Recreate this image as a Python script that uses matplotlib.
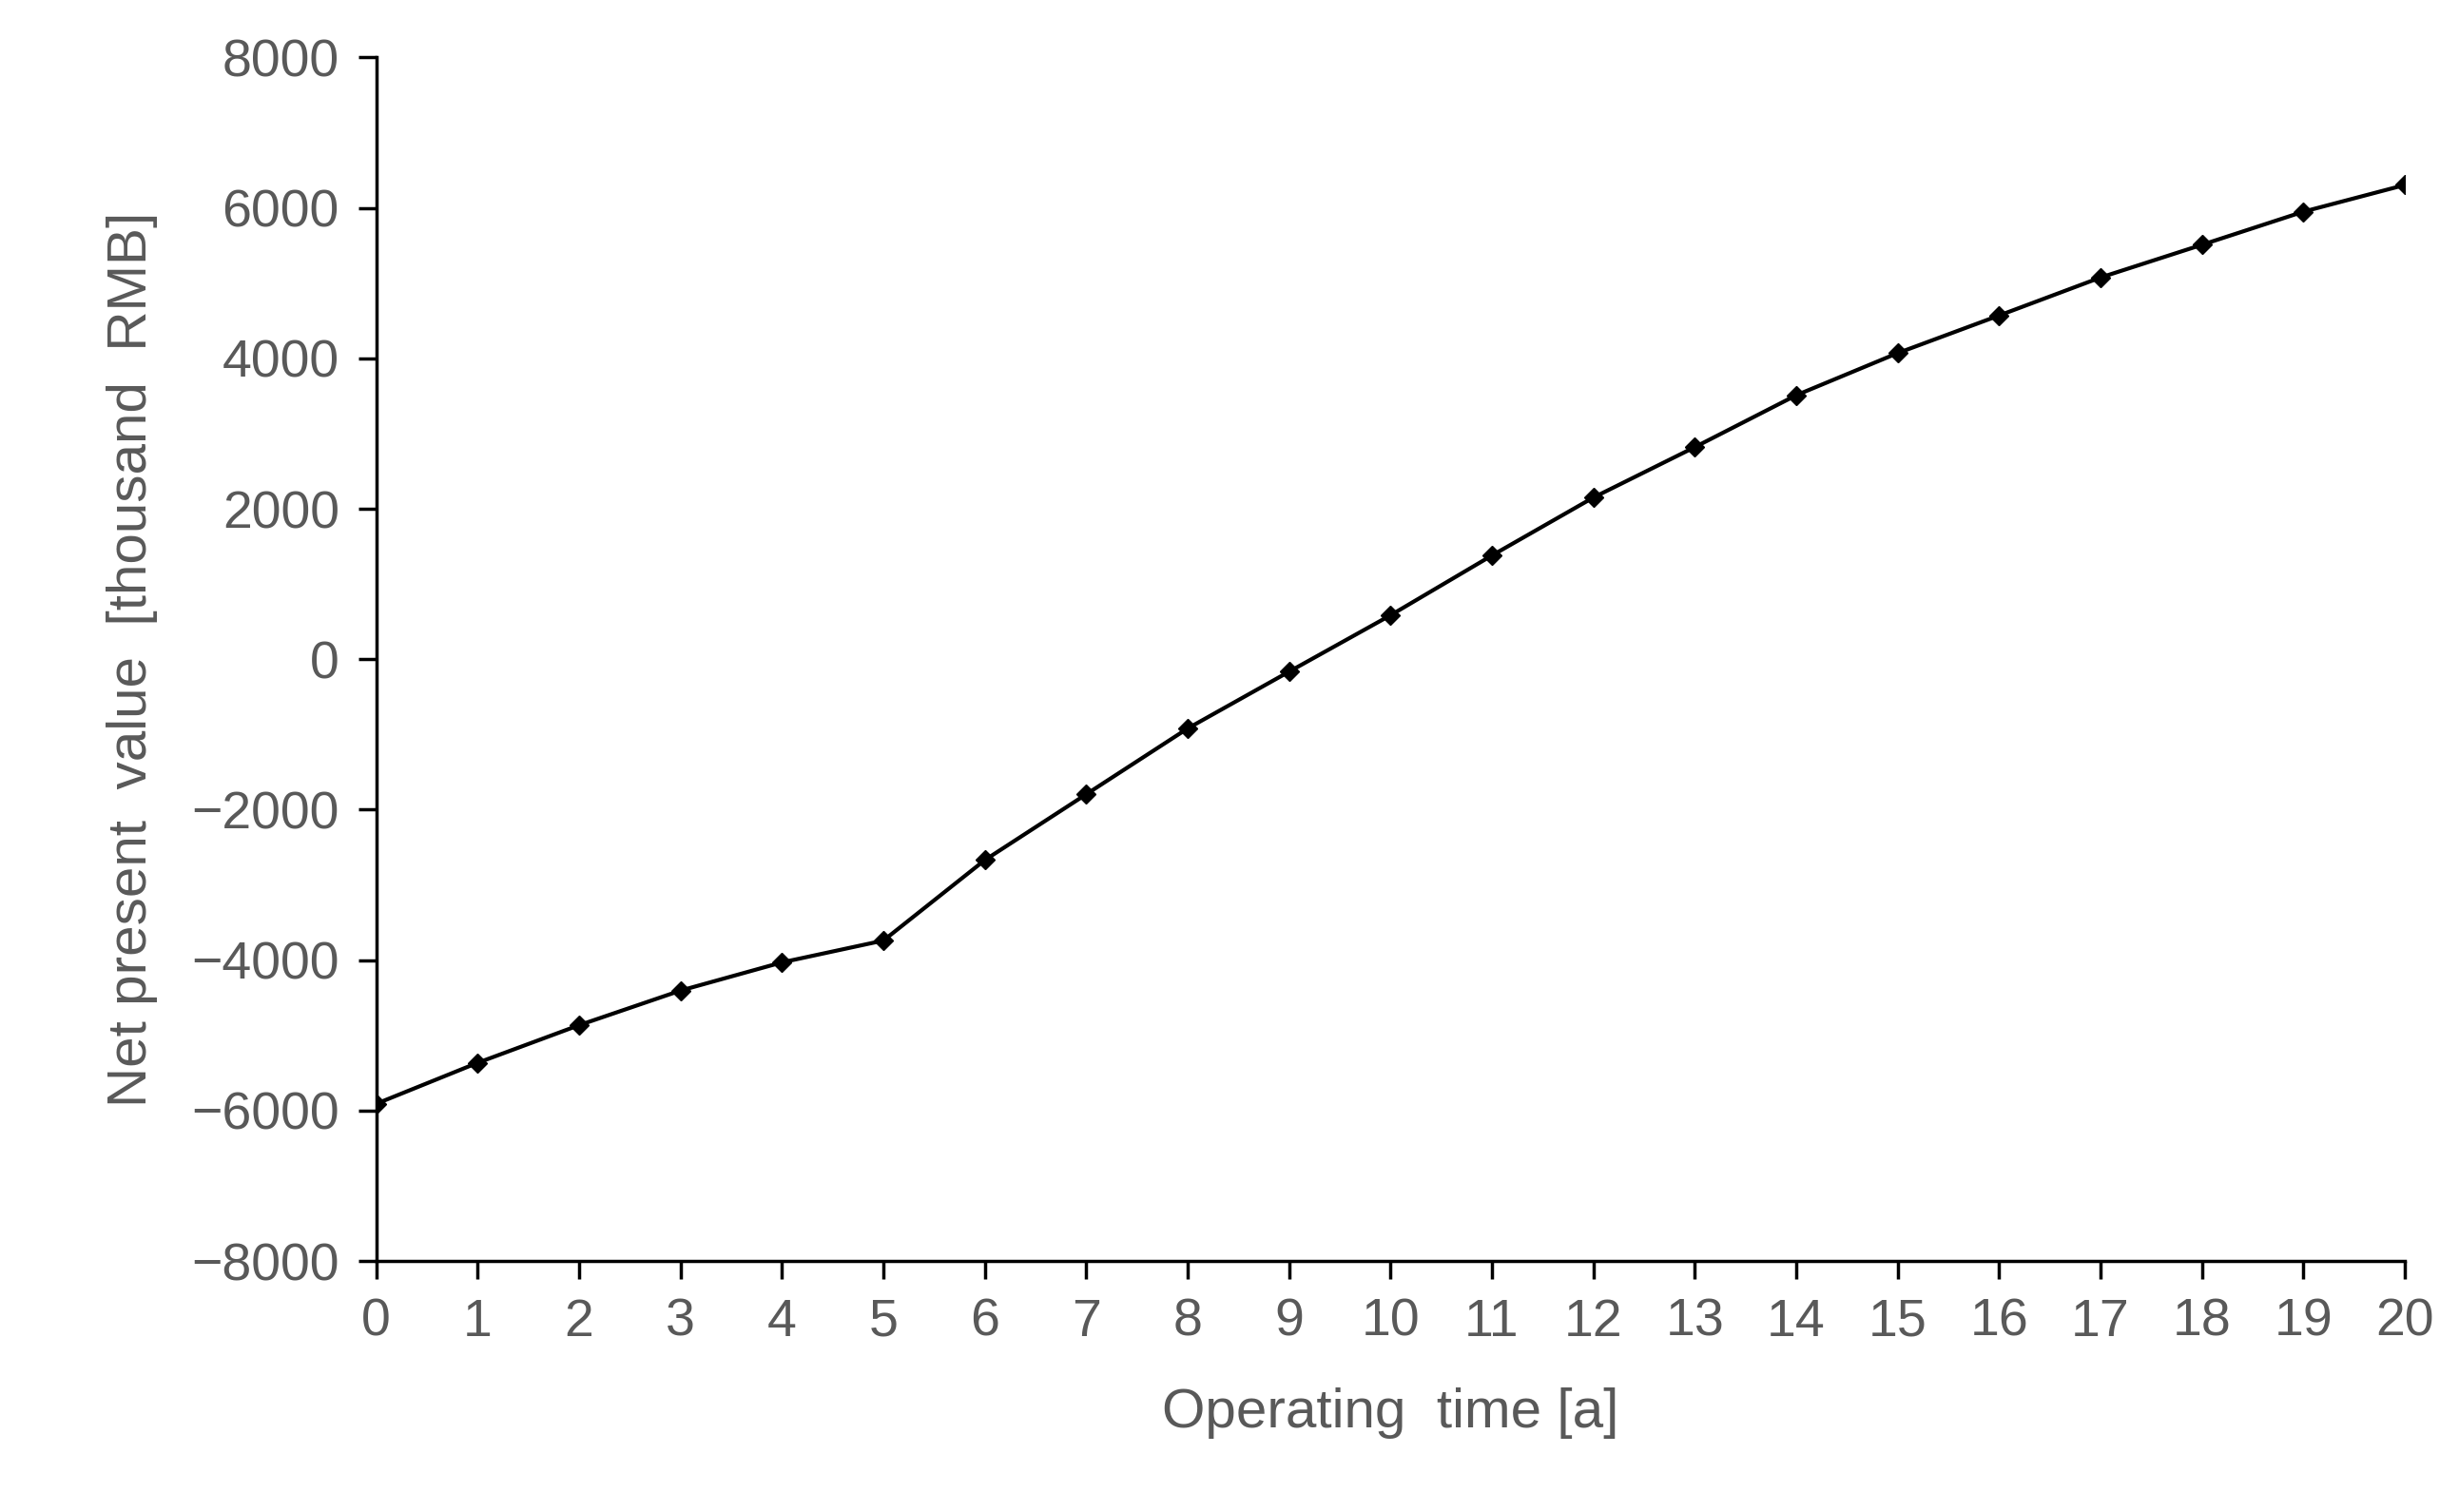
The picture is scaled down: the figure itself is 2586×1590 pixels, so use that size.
import matplotlib
matplotlib.use("Agg")
from matplotlib import pyplot as plt

plt.rcParams["font.family"] = ["Liberation Sans", "DejaVu Sans"]

years = list(range(0, 21))
npv = [-5910, -5365, -4865, -4405, -4030, -3740, -2670, -1795, -920, -165,
       585, 1380, 2150, 2820, 3510, 4070, 4570, 5075, 5510, 5950, 6305]

text_color = "#595959"

fig = plt.figure(figsize=(25.86, 15.90), dpi=100)
ax = fig.add_axes([0.153, 0.166, 0.825, 0.796])

ax.plot(years, npv, color="black", linewidth=3, marker="D", markersize=10)

ax.set_xlim(0, 20)
ax.set_ylim(-8000, 8000)
ax.set_xticks(years)
ax.set_yticks(range(-8000, 8001, 2000))

for side in ["top", "right"]:
    ax.spines[side].set_visible(False)
for side in ["left", "bottom"]:
    ax.spines[side].set_linewidth(2.5)

ax.tick_params(axis="both", labelsize=40, colors="black", labelcolor=text_color,
               width=2.5, length=14, direction="out", pad=14)

ax.set_xlabel("Operating  time [a]", fontsize=42, color=text_color, labelpad=30)
ax.set_ylabel("Net present  value  [thousand  RMB]", fontsize=42, color=text_color, labelpad=25)

fig.savefig("out.png", dpi=100)
